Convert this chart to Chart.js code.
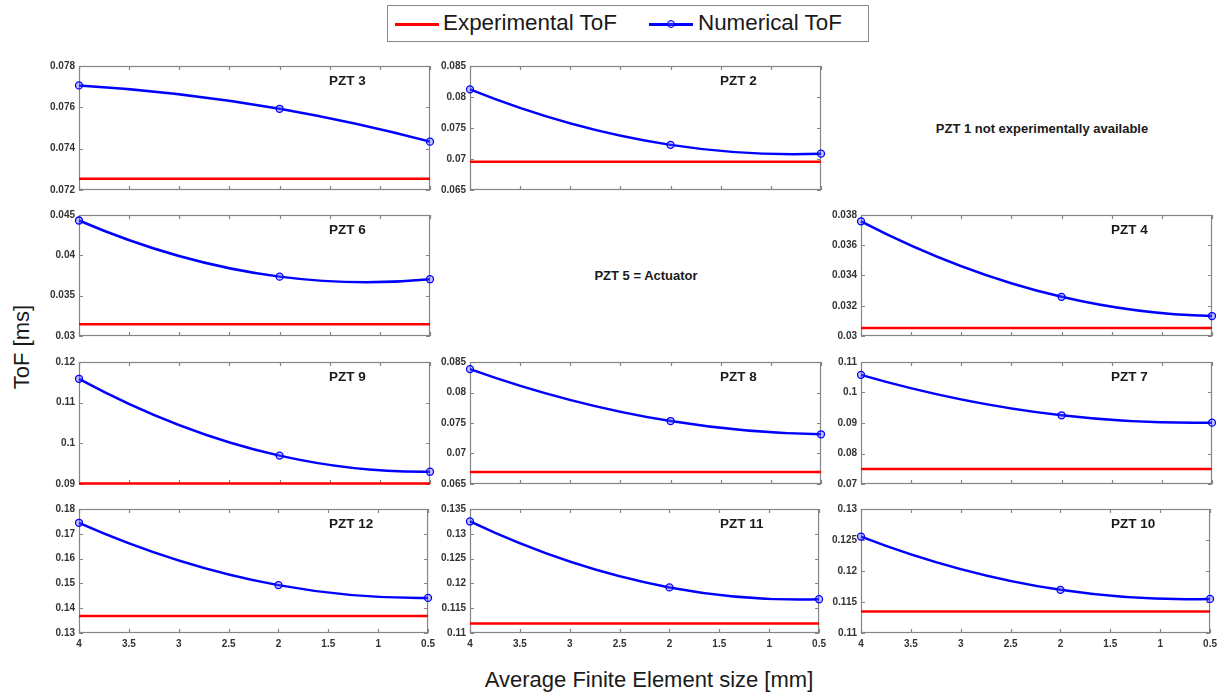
<!DOCTYPE html>
<html>
<head>
<meta charset="utf-8">
<script src="https://cdn.jsdelivr.net/npm/chart.js@4.4.1/dist/chart.umd.min.js"></script>
<style>
    body { margin: 0; background: #fff; width: 1227px; height: 700px; position: relative; overflow: hidden;
           font-family: "Liberation Sans", Arial, sans-serif; }
    canvas { position: absolute; }
    .lbl { position: absolute; font-weight: bold; font-size: 13.5px; color: #1a1a1a; white-space: nowrap; line-height: 16px; z-index: 2; }
    .note { transform: translate(-50%, -50%); font-size: 13px; }
    #legend { position: absolute; left: 387px; top: 5px; width: 480px; height: 35px; border: 1px solid #888; background: #fff; z-index: 3; }
    #legend .txt { position: absolute; top: 4px; font-size: 22.4px; line-height: 26px; color: #1a1a1a; white-space: nowrap; }
    #legend .ln { position: absolute; top: 16.5px; width: 44px; height: 3px; }
    #legend .dot { position: absolute; left: 279px; top: 14px; width: 6px; height: 6px; border: 1.3px solid #00f; border-radius: 50%; background: rgba(90,90,255,0.35); }
    .axisTitle { position: absolute; font-size: 22px; color: #1a1a1a; white-space: nowrap; line-height: 26px; }
</style>
</head>
<body>

<div id="legend">
    <span class="ln" style="left:7px;background:#ff0000"></span>
    <span class="txt" style="left:55px">Experimental ToF</span>
    <span class="ln" style="left:261px;background:#0000ff"></span>
    <span class="dot"></span>
    <span class="txt" style="left:310px">Numerical ToF</span>
</div>

<div class="axisTitle" style="left:22px;top:347px;transform:translate(-50%,-50%) rotate(-90deg);">ToF [ms]</div>
<div class="axisTitle" style="left:649px;top:680px;transform:translate(-50%,-50%);">Average Finite Element size [mm]</div>

<div class="lbl note" style="left:1042px;top:129px;">PZT 1 not experimentally available</div>
<div class="lbl note" style="left:646px;top:276px;">PZT 5 = Actuator</div>

<script>
// element sizes where the numerical ToF was computed
const elementSize = [4, 2, 0.5];
const xTickValues = [4, 3.5, 3, 2.5, 2, 1.5, 1, 0.5];

// ToF [ms] per sensor
const pzt3Num = [0.07706, 0.07593, 0.07434];
const pzt3Exp = 0.07255;
const pzt3Ticks = [0.072, 0.074, 0.076, 0.078];

const pzt2Num = [0.08123, 0.07228, 0.07086];
const pzt2Exp = 0.06955;
const pzt2Ticks = [0.065, 0.07, 0.075, 0.08, 0.085];

const pzt6Num = [0.04432, 0.03736, 0.03704];
const pzt6Exp = 0.03147;
const pzt6Ticks = [0.03, 0.035, 0.04, 0.045];

const pzt4Num = [0.03758, 0.03259, 0.03132];
const pzt4Exp = 0.03053;
const pzt4Ticks = [0.03, 0.032, 0.034, 0.036, 0.038];

const pzt9Num = [0.11587, 0.09698, 0.09302];
const pzt9Exp = 0.0901;
const pzt9Ticks = [0.09, 0.1, 0.11, 0.12];

const pzt8Num = [0.08384, 0.07532, 0.07315];
const pzt8Exp = 0.06696;
const pzt8Ticks = [0.065, 0.07, 0.075, 0.08, 0.085];

const pzt7Num = [0.10579, 0.09253, 0.09011];
const pzt7Exp = 0.07495;
const pzt7Ticks = [0.07, 0.08, 0.09, 0.1, 0.11];

const pzt12Num = [0.17444, 0.14931, 0.14415];
const pzt12Exp = 0.13688;
const pzt12Ticks = [0.13, 0.14, 0.15, 0.16, 0.17, 0.18];

const pzt11Num = [0.13249, 0.11919, 0.11681];
const pzt11Exp = 0.11192;
const pzt11Ticks = [0.11, 0.115, 0.12, 0.125, 0.13, 0.135];

const pzt10Num = [0.12555, 0.11696, 0.1155];
const pzt10Exp = 0.11346;
const pzt10Ticks = [0.11, 0.115, 0.12, 0.125, 0.13];

// grid layout (pixels)
const colLeft = [79, 470, 861];
const plotW = 351;
const rowTop = [64, 213, 360, 507];
const rowH = [128, 125, 126, 126];

const panels = [
    { name: 'PZT 3',  num: pzt3Num,  exp: pzt3Exp,  ticks: pzt3Ticks,  col: 0, row: 0 },
    { name: 'PZT 2',  num: pzt2Num,  exp: pzt2Exp,  ticks: pzt2Ticks,  col: 1, row: 0 },
    { name: 'PZT 6',  num: pzt6Num,  exp: pzt6Exp,  ticks: pzt6Ticks,  col: 0, row: 1 },
    { name: 'PZT 4',  num: pzt4Num,  exp: pzt4Exp,  ticks: pzt4Ticks,  col: 2, row: 1 },
    { name: 'PZT 9',  num: pzt9Num,  exp: pzt9Exp,  ticks: pzt9Ticks,  col: 0, row: 2 },
    { name: 'PZT 8',  num: pzt8Num,  exp: pzt8Exp,  ticks: pzt8Ticks,  col: 1, row: 2 },
    { name: 'PZT 7',  num: pzt7Num,  exp: pzt7Exp,  ticks: pzt7Ticks,  col: 2, row: 2 },
    { name: 'PZT 12', num: pzt12Num, exp: pzt12Exp, ticks: pzt12Ticks, col: 0, row: 3 },
    { name: 'PZT 11', num: pzt11Num, exp: pzt11Exp, ticks: pzt11Ticks, col: 1, row: 3 },
    { name: 'PZT 10', num: pzt10Num, exp: pzt10Exp, ticks: pzt10Ticks, col: 2, row: 3 }
];

// box + inward tick marks, matlab style
const frame = {
    id: 'frame',
    beforeDatasetsDraw(chart) {
        const { ctx, chartArea: a, scales } = chart;
        ctx.save();
        ctx.strokeStyle = '#858585';
        ctx.lineWidth = 1.2;
        ctx.strokeRect(a.left + 0.5, a.top + 0.5, a.right - a.left - 1, a.bottom - a.top - 1);
        ctx.beginPath();
        scales.x.ticks.forEach(t => {
            const px = Math.round(scales.x.getPixelForValue(t.value)) + 0.5;
            ctx.moveTo(px, a.bottom); ctx.lineTo(px, a.bottom - 4);
            ctx.moveTo(px, a.top); ctx.lineTo(px, a.top + 4);
        });
        scales.y.ticks.forEach(t => {
            const py = Math.round(scales.y.getPixelForValue(t.value)) + 0.5;
            ctx.moveTo(a.left, py); ctx.lineTo(a.left + 4, py);
            ctx.moveTo(a.right, py); ctx.lineTo(a.right - 4, py);
        });
        ctx.stroke();
        ctx.restore();
    }
};

// the numerical curve is a 2nd order fit through the 3 points:
// set the bezier control points so each segment follows that parabola
const quadFit = {
    id: 'quadFit',
    beforeDatasetDraw(chart, args) {
        if (args.index !== 1) return;
        const meta = args.meta;
        meta.dataset.updateControlPoints(chart.chartArea, 'x');
        const pts = meta.data;
        if (pts.length !== 3) return;
        const [p0, p1, p2] = pts;
        const f01 = (p1.y - p0.y) / (p1.x - p0.x);
        const f12 = (p2.y - p1.y) / (p2.x - p1.x);
        const f012 = (f12 - f01) / (p2.x - p0.x);
        const slope = x => f01 + f012 * (2 * x - p0.x - p1.x);
        for (let i = 0; i < 2; i++) {
            const a = pts[i], b = pts[i + 1];
            const h = (b.x - a.x) / 3;
            a.cp2x = a.x + h;
            a.cp2y = a.y + slope(a.x) * h;
            b.cp1x = b.x - h;
            b.cp1y = b.y - slope(b.x) * h;
        }
    }
};

const tickFont = { family: 'Liberation Sans', size: 10, weight: 'bold' };

panels.forEach(p => {
    const bottomRow = p.row === 3;
    const cv = document.createElement('canvas');
    cv.width = 50 + plotW + 10;
    cv.height = 8 + rowH[p.row] + (bottomRow ? 22 : 8);
    cv.style.left = (colLeft[p.col] - 50) + 'px';
    cv.style.top = (rowTop[p.row] - 8) + 'px';
    document.body.appendChild(cv);

    const lbl = document.createElement('div');
    lbl.className = 'lbl';
    lbl.textContent = p.name;
    lbl.style.left = (colLeft[p.col] + 250) + 'px';
    lbl.style.top = (rowTop[p.row] + 9) + 'px';
    document.body.appendChild(lbl);

    new Chart(cv, {
        type: 'line',
        data: {
            datasets: [{
                label: 'Experimental ToF',
                data: [{ x: elementSize[0], y: p.exp }, { x: elementSize[elementSize.length - 1], y: p.exp }],
                borderColor: '#ff0000',
                borderWidth: 2.5,
                pointRadius: 0,
                tension: 0,
                clip: false
            }, {
                label: 'Numerical ToF',
                data: elementSize.map((s, i) => ({ x: s, y: p.num[i] })),
                borderColor: '#0000ff',
                borderWidth: 2.5,
                pointRadius: 3.5,
                pointBorderWidth: 1.3,
                pointBorderColor: '#0000ff',
                pointBackgroundColor: 'rgba(90,90,255,0.35)',
                cubicInterpolationMode: 'monotone',
                clip: false
            }]
        },
        options: {
            responsive: false,
            animation: false,
            events: [],
            layout: { padding: { top: 8, right: 10, bottom: bottomRow ? 0 : 8, left: 0 } },
            plugins: { legend: { display: false }, tooltip: { enabled: false } },
            scales: {
                x: {
                    type: 'linear',
                    reverse: true,
                    min: 0.5,
                    max: 4,
                    afterBuildTicks: s => { s.ticks = xTickValues.map(v => ({ value: v })); },
                    afterFit: s => { s.height = bottomRow ? 22 : 0; },
                    grid: { display: false, drawTicks: false },
                    border: { display: false },
                    ticks: {
                        display: bottomRow,
                        padding: 5,
                        color: '#333',
                        font: tickFont,
                        maxRotation: 0,
                        autoSkip: false,
                        callback: v => String(v)
                    }
                },
                y: {
                    min: p.ticks[0],
                    max: p.ticks[p.ticks.length - 1],
                    afterBuildTicks: s => { s.ticks = p.ticks.map(v => ({ value: v })); },
                    afterFit: s => { s.width = 50; },
                    grid: { display: false, drawTicks: false },
                    border: { display: false },
                    ticks: {
                        padding: 4,
                        color: '#333',
                        font: tickFont,
                        callback: v => String(v)
                    }
                }
            }
        },
        plugins: [frame, quadFit]
    });
});
</script>
</body>
</html>
